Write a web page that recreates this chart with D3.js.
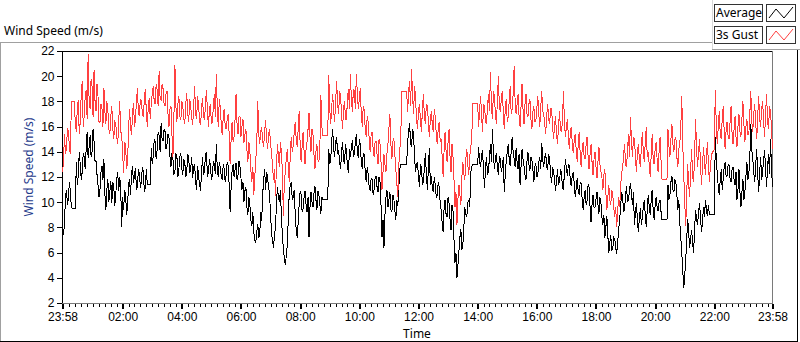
<!DOCTYPE html>
<html>
<head>
<meta charset="utf-8">
<script src="https://cdn.jsdelivr.net/npm/d3@7"></script>
<style>
  html, body { margin: 0; padding: 0; background: #fff; }
  svg { display: block; font-family: "Segoe UI", "Noto Sans", "DejaVu Sans", sans-serif; }
</style>
</head>
<body>
<div id="chart"></div>
<script>
// sample spacing of the logged data, in minutes
const sampleMinutes = 2;
const startLabel = '23:58';

// 1-min average wind speed (m/s), one value every 2 minutes
const average = [
  7.6, 7.4, 8.3, 10.4, 11.0, 9.8, 10.3, 11.6, 10.8, 9.6, 9.5, 9.5, 9.5, 9.5, 13.2, 11.4, 12.1, 14.0, 13.0, 11.8,
  12.4, 13.9, 13.6, 12.6, 14.2, 15.6, 13.5, 14.4, 15.3, 13.6, 14.0, 15.8, 14.8, 13.2, 13.3, 12.2, 11.4, 10.4, 11.0, 12.4,
  12.9, 11.8, 13.4, 10.6, 9.4, 11.0, 11.8, 10.0, 10.8, 11.7, 9.9, 11.6, 11.3, 9.7, 10.6, 11.8, 12.4, 10.9, 12.0, 11.2,
  8.0, 10.4, 9.4, 11.0, 10.6, 9.0, 9.8, 11.4, 11.8, 10.6, 12.2, 12.9, 11.5, 12.2, 12.7, 11.0, 11.3, 12.6, 12.3, 11.1,
  11.6, 12.8, 12.4, 10.8, 11.2, 12.6, 11.4, 11.4, 11.4, 11.4, 14.3, 13.0, 13.6, 15.0, 14.8, 13.4, 14.2, 15.6, 15.3, 14.0,
  16.3, 15.0, 14.9, 15.8, 15.6, 14.2, 14.6, 15.4, 15.1, 13.6, 12.8, 13.9, 13.4, 12.2, 12.4, 13.8, 13.7, 12.0, 12.6, 13.6,
  13.9, 12.6, 12.2, 13.4, 13.2, 12.0, 12.4, 13.8, 13.5, 12.3, 12.7, 13.6, 11.9, 12.8, 13.0, 11.6, 11.0, 12.9, 12.1, 11.4,
  10.9, 12.4, 13.6, 12.2, 12.5, 13.8, 13.9, 12.0, 12.4, 13.4, 12.9, 11.8, 12.1, 13.3, 13.0, 12.2, 14.6, 12.6, 12.0, 13.2,
  12.8, 12.0, 11.8, 13.0, 12.6, 11.6, 12.2, 13.2, 12.9, 11.4, 9.2, 11.2, 12.5, 13.0, 12.0, 12.6, 13.1, 11.8, 12.2, 13.3,
  12.8, 11.9, 11.0, 11.6, 10.0, 10.9, 11.2, 9.6, 9.0, 10.4, 9.8, 8.6, 8.1, 9.2, 7.6, 7.0, 6.8, 7.6, 8.3, 7.2,
  7.4, 9.2, 8.5, 10.6, 11.8, 12.6, 11.0, 12.4, 11.9, 11.2, 10.6, 9.0, 7.5, 6.9, 6.4, 7.4, 8.0, 10.0, 11.2, 10.4,
  10.0, 11.0, 8.8, 7.4, 6.2, 5.6, 5.0, 5.8, 6.6, 8.8, 10.8, 11.4, 11.6, 10.2, 10.4, 11.0, 9.0, 7.8, 7.2, 8.4,
  9.8, 10.9, 10.6, 9.2, 9.5, 10.4, 10.9, 9.8, 9.2, 10.4, 7.2, 9.6, 10.8, 10.0, 9.6, 10.7, 11.3, 10.2, 9.4, 10.9,
  10.6, 9.8, 9.1, 10.4, 10.2, 10.2, 10.2, 10.2, 10.2, 10.2, 14.2, 13.0, 13.4, 14.9, 15.8, 14.2, 13.6, 14.8, 15.2, 13.8,
  14.1, 13.2, 12.6, 14.0, 14.8, 13.4, 13.0, 14.6, 14.0, 12.8, 12.3, 14.2, 13.6, 14.4, 14.9, 13.6, 13.8, 14.8, 15.4, 14.0,
  13.5, 15.0, 14.6, 13.2, 12.6, 13.9, 13.8, 12.4, 11.6, 12.8, 12.2, 11.2, 10.9, 11.9, 11.8, 10.6, 11.0, 11.9, 12.1, 11.2,
  10.8, 12.0, 11.6, 9.8, 7.2, 8.6, 6.4, 9.0, 10.4, 11.0, 9.6, 10.2, 10.8, 9.4, 9.2, 10.6, 10.3, 9.4, 8.6, 10.2,
  9.7, 11.0, 12.6, 13.0, 13.0, 13.0, 13.0, 13.0, 13.0, 13.0, 14.8, 15.6, 16.3, 14.6, 14.4, 15.8, 15.4, 13.6, 12.4, 13.0,
  13.2, 12.0, 11.2, 13.0, 12.8, 11.4, 11.6, 12.8, 13.9, 12.2, 11.0, 12.6, 14.3, 11.4, 12.1, 11.2, 10.8, 12.0, 11.4, 10.4,
  10.5, 11.6, 11.2, 10.0, 9.4, 8.4, 7.6, 9.6, 10.2, 9.0, 8.8, 10.4, 9.9, 8.6, 7.8, 9.8, 9.3, 7.0, 5.2, 6.0,
  4.0, 5.0, 6.1, 7.2, 7.9, 6.2, 6.6, 8.0, 9.6, 9.0, 8.8, 10.0, 10.2, 9.6, 12.4, 12.8, 13.0, 13.0, 13.0, 13.0,
  13.0, 13.0, 14.4, 13.2, 12.8, 13.8, 14.1, 12.4, 11.1, 12.8, 13.6, 12.2, 12.5, 13.6, 14.6, 13.2, 15.8, 13.8, 12.6, 13.4,
  13.9, 12.8, 12.2, 13.6, 13.5, 12.4, 12.8, 13.6, 10.8, 12.2, 13.3, 14.0, 14.6, 13.4, 12.9, 14.0, 15.2, 14.0, 13.4, 12.8,
  14.3, 13.2, 12.6, 13.8, 11.4, 12.8, 14.2, 13.4, 12.9, 12.2, 11.8, 13.2, 14.0, 13.0, 12.5, 13.6, 13.4, 12.6, 11.6, 12.8,
  13.1, 12.0, 12.2, 13.2, 13.6, 12.6, 14.7, 13.4, 12.8, 13.6, 13.9, 12.8, 12.6, 13.8, 13.4, 12.2, 11.5, 12.8, 12.4, 11.8,
  10.9, 11.8, 12.6, 11.4, 11.6, 12.6, 12.3, 11.2, 11.0, 12.4, 13.4, 12.6, 12.1, 13.0, 12.9, 11.6, 11.3, 12.2, 12.4, 11.4,
  10.4, 11.2, 11.9, 10.8, 10.6, 11.6, 11.5, 10.2, 9.4, 10.4, 11.0, 9.8, 10.1, 11.4, 11.2, 9.6, 8.4, 9.8, 10.6, 9.6,
  9.6, 10.2, 10.8, 9.8, 9.1, 10.4, 10.0, 8.8, 8.2, 9.0, 7.2, 8.0, 8.9, 7.4, 6.0, 6.8, 7.4, 6.2, 6.3, 7.2,
  7.1, 6.4, 5.9, 6.8, 7.8, 8.6, 9.6, 10.8, 10.4, 9.2, 9.4, 10.6, 11.3, 10.0, 10.2, 11.0, 11.5, 10.6, 9.8, 10.8,
  8.2, 9.2, 9.9, 8.6, 7.6, 8.8, 9.5, 8.2, 8.8, 9.6, 10.2, 9.0, 8.0, 9.4, 10.6, 9.6, 9.0, 10.2, 11.0, 9.4,
  8.6, 9.8, 10.4, 9.6, 9.3, 10.0, 10.2, 9.2, 8.6, 8.6, 8.6, 8.6, 8.6, 8.6, 11.4, 10.2, 10.6, 11.6, 12.1, 11.0,
  10.8, 11.8, 11.6, 10.6, 9.4, 10.2, 8.4, 7.2, 6.0, 4.6, 3.2, 4.2, 5.4, 7.0, 8.7, 7.6, 6.4, 7.2, 7.8, 6.8,
  6.0, 7.8, 9.4, 8.6, 8.2, 9.2, 9.9, 8.8, 7.6, 8.4, 9.6, 8.8, 10.2, 9.4, 8.9, 9.8, 9.0, 9.0, 9.0, 9.0,
  9.0, 9.0, 15.2, 13.4, 12.3, 11.2, 10.6, 11.8, 12.6, 11.0, 11.8, 12.8, 13.2, 12.0, 12.1, 13.0, 12.9, 11.8, 11.6, 12.6,
  12.8, 11.8, 11.4, 12.4, 10.2, 11.0, 12.6, 10.8, 9.6, 10.8, 11.8, 10.2, 10.8, 12.0, 13.2, 11.8, 12.2, 13.6, 16.2, 14.2,
  13.4, 12.4, 11.6, 13.0, 14.2, 12.2, 10.8, 12.4, 13.6, 11.8, 12.4, 13.4, 14.1, 12.6, 11.2, 12.8, 13.8, 12.2, 15.0, 12.6,
  11.2
];

// 3 second gust (m/s), same timestamps
const gust = [
  12.4, 13.2, 15.4, 13.8, 14.2, 15.9, 15.6, 14.4, 13.8, 18.0, 18.0, 18.0, 18.0, 16.2, 15.6, 17.4, 18.1, 15.4, 16.4, 18.6,
  19.6, 16.0, 16.8, 18.4, 18.9, 16.6, 21.8, 18.0, 17.4, 19.8, 19.2, 16.8, 20.5, 18.0, 17.2, 19.4, 18.4, 16.4, 16.3, 17.8,
  17.5, 16.0, 19.1, 17.2, 16.2, 18.0, 17.3, 15.8, 15.4, 16.8, 17.6, 15.8, 15.0, 16.4, 16.3, 15.2, 14.6, 16.4, 18.0, 15.6,
  15.4, 13.8, 12.3, 14.8, 14.6, 12.6, 13.2, 15.8, 17.4, 16.0, 15.3, 17.0, 17.9, 16.0, 16.6, 18.0, 19.1, 17.0, 16.9, 18.2,
  18.0, 17.0, 16.8, 18.2, 19.0, 17.2, 16.0, 17.6, 18.3, 16.6, 17.8, 18.6, 19.2, 18.0, 17.8, 19.4, 18.9, 17.6, 20.4, 18.2,
  18.1, 19.4, 19.0, 17.8, 17.6, 18.6, 18.8, 17.0, 16.0, 17.4, 17.6, 15.4, 13.6, 16.8, 20.9, 17.6, 16.4, 17.8, 18.4, 16.8,
  16.5, 18.0, 17.6, 16.6, 16.2, 17.8, 18.7, 17.0, 16.4, 18.2, 17.6, 16.8, 16.1, 17.6, 19.2, 17.0, 16.6, 18.4, 17.8, 16.4,
  16.1, 17.4, 18.3, 16.8, 16.5, 17.8, 18.9, 17.2, 16.0, 17.4, 17.8, 16.2, 16.4, 17.6, 18.6, 16.8, 20.2, 17.4, 16.0, 18.2,
  17.5, 16.2, 15.3, 16.8, 17.4, 16.0, 15.8, 16.6, 17.0, 15.4, 13.0, 15.0, 16.4, 14.8, 15.2, 16.6, 18.6, 16.2, 15.4, 16.8,
  16.8, 15.2, 16.0, 16.6, 14.7, 15.4, 15.8, 14.2, 13.2, 14.8, 14.0, 12.6, 11.6, 12.8, 10.6, 12.0, 13.4, 14.6, 18.0, 15.4,
  14.6, 15.6, 16.0, 14.8, 14.4, 15.6, 16.5, 15.0, 14.2, 15.4, 15.8, 14.6, 14.0, 12.8, 11.8, 12.6, 10.5, 13.0, 14.6, 13.6,
  12.8, 14.8, 14.0, 12.4, 8.9, 11.8, 12.4, 13.6, 14.2, 12.8, 11.6, 13.8, 15.2, 14.0, 14.5, 15.6, 16.4, 15.0, 14.4, 15.8,
  17.2, 14.6, 13.2, 14.4, 15.6, 14.0, 13.0, 14.2, 14.8, 15.8, 17.1, 15.2, 14.0, 15.8, 15.4, 13.8, 12.6, 14.0, 14.6, 13.4,
  13.2, 14.4, 18.5, 16.0, 15.3, 15.3, 15.3, 15.3, 15.3, 15.3, 20.1, 17.4, 16.2, 17.6, 18.6, 17.2, 16.4, 18.0, 19.6, 17.8,
  17.0, 18.8, 18.4, 17.0, 15.8, 17.4, 18.0, 16.6, 16.6, 18.2, 19.0, 17.4, 20.2, 18.0, 17.2, 19.0, 18.8, 17.4, 20.2, 18.6,
  17.4, 18.2, 19.1, 17.0, 16.0, 17.6, 17.3, 15.8, 15.2, 16.8, 16.4, 15.0, 14.0, 15.4, 15.6, 14.2, 13.6, 14.8, 14.8, 13.8,
  13.0, 15.0, 14.6, 13.2, 11.0, 12.4, 13.8, 13.0, 12.4, 13.8, 14.6, 15.8, 17.0, 14.6, 13.4, 14.8, 15.1, 13.8, 12.6, 11.6,
  10.4, 12.8, 14.2, 15.0, 18.8, 18.8, 18.8, 18.8, 18.8, 18.8, 17.2, 18.8, 19.6, 17.6, 20.6, 18.4, 17.0, 19.2, 18.4, 16.6,
  15.8, 17.2, 17.8, 16.4, 15.6, 17.4, 18.6, 16.8, 16.2, 17.8, 17.6, 16.4, 15.2, 16.6, 17.2, 16.2, 15.6, 17.4, 16.8, 15.4,
  14.6, 15.8, 16.4, 14.8, 15.0, 13.6, 12.0, 14.2, 15.6, 14.0, 13.2, 14.8, 15.8, 13.6, 12.4, 14.6, 13.6, 11.8, 9.6, 10.8,
  8.2, 10.2, 11.4, 10.6, 9.8, 12.0, 13.2, 12.2, 11.8, 13.4, 14.2, 13.0, 12.2, 13.6, 14.4, 15.0, 17.8, 17.8, 17.8, 17.8,
  17.8, 17.8, 16.0, 17.4, 18.4, 16.8, 15.6, 17.8, 17.6, 16.4, 16.2, 17.6, 18.6, 17.2, 20.3, 17.6, 16.6, 18.8, 18.4, 17.0,
  16.2, 18.0, 20.0, 17.6, 17.2, 18.2, 18.8, 17.2, 15.8, 17.4, 18.2, 16.4, 16.8, 18.0, 19.2, 17.0, 17.4, 18.6, 20.8, 18.0,
  17.0, 17.8, 18.6, 16.8, 16.0, 17.6, 19.4, 17.4, 16.2, 17.8, 18.6, 17.0, 16.8, 17.8, 18.2, 16.6, 15.8, 17.2, 17.6, 16.4,
  16.4, 17.4, 18.4, 17.0, 16.0, 17.6, 18.8, 17.2, 17.0, 16.2, 15.4, 16.8, 17.8, 16.6, 16.2, 17.4, 17.4, 16.0, 15.0, 16.2,
  16.8, 15.4, 14.6, 16.0, 17.2, 15.8, 15.6, 16.4, 18.8, 16.4, 15.2, 16.0, 16.6, 15.2, 14.2, 15.6, 16.0, 14.6, 13.9, 15.0,
  15.4, 14.0, 13.2, 14.6, 15.6, 13.8, 12.8, 14.2, 14.8, 13.6, 13.4, 14.6, 15.2, 13.6, 12.6, 13.8, 14.6, 13.2, 12.2, 13.4,
  14.0, 12.8, 11.9, 13.2, 14.4, 13.0, 12.4, 12.0, 11.0, 12.2, 12.6, 10.8, 9.4, 10.4, 11.4, 10.2, 9.8, 11.0, 10.6, 9.6,
  8.8, 9.6, 8.0, 9.4, 10.4, 9.6, 11.2, 12.4, 12.6, 13.8, 14.6, 13.0, 12.8, 14.2, 15.4, 13.6, 16.8, 14.8, 13.6, 15.2,
  15.0, 13.6, 12.4, 14.0, 14.6, 13.4, 12.8, 14.4, 15.6, 14.0, 13.2, 14.8, 16.0, 13.6, 14.0, 13.0, 12.0, 13.8, 15.4, 13.4,
  13.0, 14.2, 14.8, 13.4, 12.4, 14.0, 15.2, 13.2, 11.8, 11.8, 11.8, 11.8, 11.8, 11.8, 15.8, 14.4, 13.6, 15.0, 16.2, 14.6,
  14.0, 15.0, 15.2, 13.6, 12.8, 14.2, 14.6, 16.0, 18.4, 14.6, 12.2, 10.0, 8.1, 10.6, 13.0, 11.4, 10.4, 12.6, 14.2, 12.0,
  11.6, 13.8, 16.6, 14.2, 12.8, 14.0, 15.0, 13.0, 11.4, 12.8, 14.4, 13.2, 12.2, 13.6, 14.8, 13.0, 11.6, 12.8, 13.6, 14.0,
  14.0, 14.2, 18.9, 16.2, 14.6, 16.0, 17.2, 15.4, 15.0, 16.6, 17.6, 15.6, 14.2, 15.8, 16.4, 15.2, 15.0, 16.4, 17.6, 15.4,
  14.6, 15.8, 16.8, 15.2, 14.4, 16.0, 17.0, 15.6, 15.2, 16.6, 18.0, 16.2, 14.8, 16.0, 16.6, 15.4, 15.4, 17.0, 18.8, 16.4,
  15.6, 17.0, 17.8, 16.2, 15.0, 16.8, 18.4, 16.6, 16.0, 17.4, 18.0, 16.4, 15.2, 17.0, 18.6, 16.4, 15.8, 17.6, 17.2, 15.8,
  14.2
];

const yTicks = [2, 4, 6, 8, 10, 12, 14, 16, 18, 20, 22];
const xTickLabels = ['23:58', '02:00', '04:00', '06:00', '08:00', '10:00', '12:00',
  '14:00', '16:00', '18:00', '20:00', '22:00', '23:58'];
const seriesNames = ['Average', '3s Gust'];
const seriesColors = ['#000000', '#ff4040'];

const width = 800;
const height = 342;
const plot = { left: 62, right: 772, top: 51, bottom: 303 };

// time base: first sample at 23:58, 24 hours of data
const parseHM = d3.timeParse('%Y-%m-%d %H:%M');
const start = parseHM('2020-01-01 ' + startLabel);
const end = d3.timeMinute.offset(start, 1440);
const timeAt = i => d3.timeMinute.offset(start, i * sampleMinutes);

const majorTicks = xTickLabels.map((lab, i) => {
  if (i === 0) return start;
  if (i === xTickLabels.length - 1) return end;
  return parseHM('2020-01-02 ' + lab);
});
const minorTicks = d3.timeMinute.every(12).range(d3.timeMinute.offset(start, 1), end);

const x = d3.scaleTime().domain([start, end]).range([plot.left + 0.5, plot.right + 0.5]);
const y = d3.scaleLinear().domain([2, 22]).range([plot.bottom, plot.top]);

const svg = d3.select('#chart').append('svg')
  .attr('width', width)
  .attr('height', height);

// outer panel frame
svg.append('line').attr('x1', 0).attr('x2', 712).attr('y1', 42.5).attr('y2', 42.5)
  .attr('stroke', '#a0a0a0');
svg.append('line').attr('x1', 0.5).attr('x2', 0.5).attr('y1', 42).attr('y2', 342)
  .attr('stroke', '#a0a0a0');
svg.append('line').attr('x1', 797.5).attr('x2', 797.5).attr('y1', 49).attr('y2', 342)
  .attr('stroke', '#000');
svg.append('line').attr('x1', 0).attr('x2', 798).attr('y1', 341.5).attr('y2', 341.5)
  .attr('stroke', '#000');

// legend panel edges
svg.append('line').attr('x1', 712.5).attr('x2', 712.5).attr('y1', 0).attr('y2', 49)
  .attr('stroke', '#d8d8d8');
svg.append('line').attr('x1', 712).attr('x2', 800).attr('y1', 49.5).attr('y2', 49.5)
  .attr('stroke', '#a0a0a0');

// chart title
svg.append('text')
  .attr('x', 4).attr('y', 35)
  .attr('font-size', 12)
  .attr('fill', '#000')
  .text('Wind Speed (m/s)');

// plot frame
svg.append('line').attr('x1', plot.left).attr('x2', plot.right + 1)
  .attr('y1', plot.top + 0.5).attr('y2', plot.top + 0.5).attr('stroke', '#000');
svg.append('line').attr('x1', plot.left + 0.5).attr('x2', plot.left + 0.5)
  .attr('y1', plot.top).attr('y2', plot.bottom + 1).attr('stroke', '#000');
svg.append('line').attr('x1', plot.right + 0.5).attr('x2', plot.right + 0.5)
  .attr('y1', plot.top).attr('y2', plot.bottom + 1).attr('stroke', '#7a7a7a');
svg.append('line').attr('x1', plot.left).attr('x2', plot.right + 1)
  .attr('y1', plot.bottom + 0.5).attr('y2', plot.bottom + 0.5).attr('stroke', '#7a7a7a');

// y axis
const yAxis = d3.axisLeft(y).tickValues(yTicks).tickSize(5).tickPadding(2);
const gy = svg.append('g')
  .attr('transform', `translate(${plot.left - 0.5},0)`)
  .call(yAxis);
gy.select('.domain').remove();
gy.selectAll('.tick line').attr('stroke', '#000').attr('shape-rendering', 'crispEdges');
gy.selectAll('.tick text').attr('font-size', 12).attr('fill', '#000')
  .attr('font-family', null);

// x axis, minor ticks then major ticks with labels
const gxMinor = svg.append('g')
  .attr('transform', `translate(0,${plot.bottom + 1})`)
  .call(d3.axisBottom(x).tickValues(minorTicks).tickSize(3).tickFormat(''));
gxMinor.select('.domain').remove();
gxMinor.selectAll('.tick line').attr('stroke', '#000').attr('shape-rendering', 'crispEdges');

const gx = svg.append('g')
  .attr('transform', `translate(0,${plot.bottom + 1})`)
  .call(d3.axisBottom(x).tickValues(majorTicks).tickSize(5).tickPadding(3)
    .tickFormat((d, i) => xTickLabels[i]));
gx.select('.domain').remove();
gx.selectAll('.tick line').attr('stroke', '#000').attr('stroke-width', 2)
  .attr('shape-rendering', 'crispEdges');
gx.selectAll('.tick text').attr('font-size', 12).attr('fill', '#000')
  .attr('font-family', null);

// axis titles
svg.append('text')
  .attr('x', 417).attr('y', 338)
  .attr('text-anchor', 'middle')
  .attr('font-size', 12)
  .attr('fill', '#000')
  .text('Time');

svg.append('text')
  .attr('transform', 'translate(33,167) rotate(-90)')
  .attr('text-anchor', 'middle')
  .attr('font-size', 12)
  .attr('fill', '#1f3b8c')
  .text('Wind Speed (m/s)');

// data lines
const line = d3.line()
  .x((d, i) => x(timeAt(i)))
  .y(d => y(d));

const plotArea = svg.append('g');
[average, gust].forEach((vals, k) => {
  plotArea.append('path')
    .datum(vals)
    .attr('fill', 'none')
    .attr('stroke', seriesColors[k])
    .attr('stroke-width', 1)
    .attr('shape-rendering', 'crispEdges')
    .attr('d', line);
});

// legend
const legend = svg.append('g');
seriesNames.forEach((name, k) => {
  const top = 4 + k * 22;
  legend.append('rect')
    .attr('x', 714.5).attr('y', top + 0.5)
    .attr('width', 48).attr('height', 17)
    .attr('fill', '#fff').attr('stroke', '#333');
  legend.append('text')
    .attr('x', 716).attr('y', top + 13)
    .attr('font-size', 12)
    .attr('fill', '#000')
    .text(name);
  legend.append('rect')
    .attr('x', 766.5).attr('y', top + 0.5)
    .attr('width', 29).attr('height', 17)
    .attr('fill', '#fff').attr('stroke', '#333');
  legend.append('polyline')
    .attr('points', [[769, top + 14], [776, top + 5], [784, top + 14], [793, top + 3]].join(' '))
    .attr('fill', 'none')
    .attr('stroke', seriesColors[k])
    .attr('stroke-width', 1);
});
</script>
</body>
</html>
